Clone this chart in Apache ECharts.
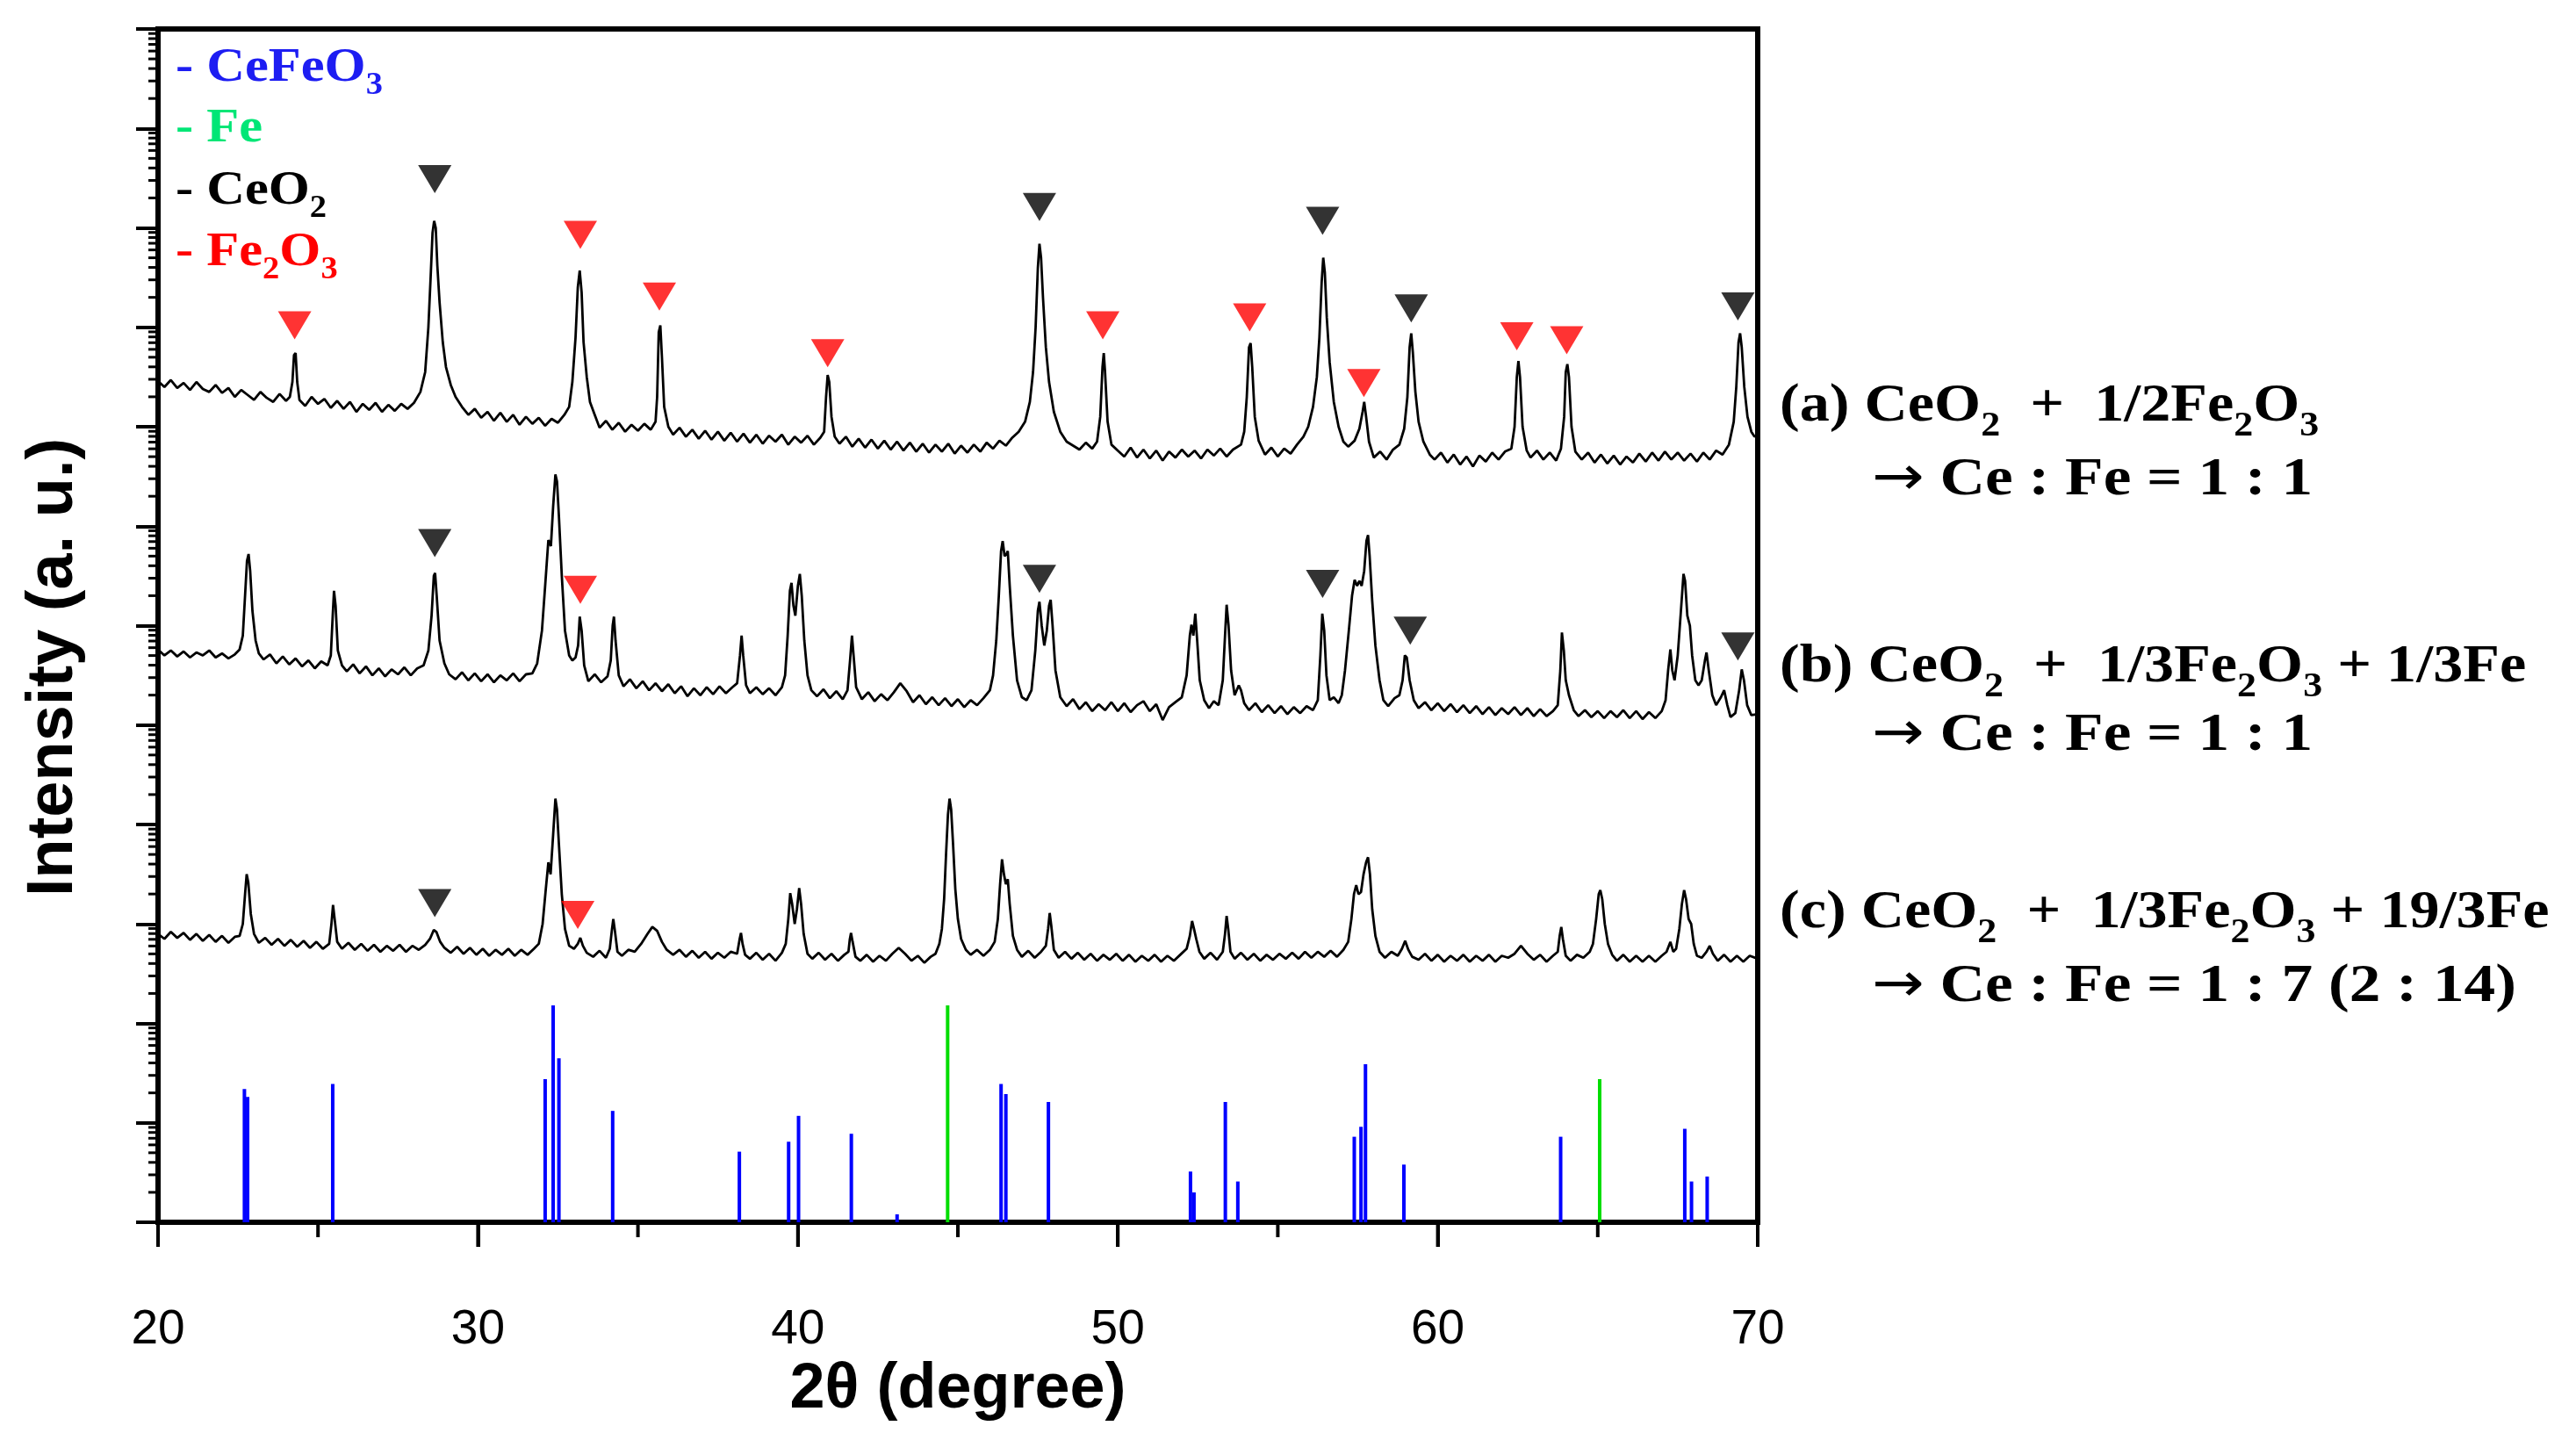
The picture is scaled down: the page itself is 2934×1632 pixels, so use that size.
<!DOCTYPE html>
<html><head><meta charset="utf-8">
<script src="https://cdn.jsdelivr.net/npm/echarts@6/dist/echarts.min.js"></script>
<style>html,body{margin:0;padding:0;background:#fff}#c{width:2934px;height:1632px}</style>
</head><body><div id="c"></div>
<script>
// x: 2θ (degree); y: intensity in decades (log scale, stacked offsets)
const xTicks = [20, 30, 40, 50, 60, 70];
const xMinorTicks = [25, 35, 45, 55, 65];

const traceA = [[20.0,8.46],[20.2,8.40],[20.4,8.47],[20.6,8.39],[20.8,8.44],[21.0,8.37],[21.2,8.45],[21.4,8.38],[21.6,8.35],[21.8,8.42],[22.0,8.34],[22.2,8.39],[22.4,8.30],[22.6,8.37],[22.8,8.32],[23.0,8.27],[23.2,8.35],[23.4,8.29],[23.6,8.25],[23.8,8.33],[24.0,8.26],
[24.12,8.30],[24.2,8.45],[24.25,8.72],[24.3,8.74],[24.35,8.45],[24.42,8.27],
[24.6,8.21],[24.8,8.30],[25.0,8.23],[25.2,8.28],[25.4,8.19],[25.6,8.26],[25.8,8.18],[26.0,8.25],[26.2,8.15],[26.4,8.23],[26.6,8.17],[26.8,8.24],[27.0,8.15],[27.2,8.22],[27.4,8.16],[27.6,8.23],[27.8,8.18],
[28.0,8.24],[28.2,8.35],[28.35,8.55],[28.45,9.0],[28.52,9.5],[28.58,9.95],[28.63,10.07],[28.68,10.0],[28.73,9.62],[28.8,9.25],[28.9,8.85],[29.0,8.6],[29.15,8.42],[29.3,8.3],[29.5,8.2],
[29.7,8.12],[29.9,8.18],[30.1,8.09],[30.3,8.15],[30.5,8.06],[30.7,8.14],[30.9,8.05],[31.1,8.12],[31.3,8.02],[31.5,8.10],[31.7,8.03],[31.9,8.09],[32.1,8.01],[32.3,8.08],[32.5,8.04],[32.7,8.12],
[32.85,8.2],[32.95,8.45],[33.05,8.9],[33.12,9.4],[33.18,9.57],[33.24,9.35],[33.3,8.85],[33.4,8.5],[33.5,8.25],[33.65,8.12],
[33.8,7.99],[34.0,8.06],[34.2,7.97],[34.4,8.04],[34.6,7.95],[34.8,8.02],[35.0,7.96],[35.2,8.03],[35.4,7.97],[35.55,8.05],
[35.6,8.3],[35.65,8.95],[35.7,9.02],[35.75,8.7],[35.82,8.2],[35.95,8.0],
[36.1,7.92],[36.3,7.99],[36.5,7.90],[36.7,7.97],[36.9,7.88],[37.1,7.96],[37.3,7.87],[37.5,7.95],[37.7,7.86],[37.9,7.94],[38.1,7.85],[38.3,7.93],[38.5,7.84],[38.7,7.92],[38.9,7.83],[39.1,7.91],[39.3,7.85],[39.5,7.92],[39.7,7.82],[39.9,7.90],[40.1,7.84],[40.3,7.91],[40.5,7.82],[40.7,7.89],
[40.82,7.95],[40.88,8.3],[40.93,8.52],[40.98,8.45],[41.05,8.1],[41.15,7.9],
[41.3,7.83],[41.5,7.90],[41.7,7.80],[41.9,7.88],[42.1,7.79],[42.3,7.87],[42.5,7.78],[42.7,7.86],[42.9,7.77],[43.1,7.85],[43.3,7.76],[43.5,7.84],[43.7,7.75],[43.9,7.83],[44.1,7.74],[44.3,7.82],[44.5,7.75],[44.7,7.83],[44.9,7.73],[45.1,7.81],[45.3,7.74],[45.5,7.82],[45.7,7.75],[45.9,7.84],[46.1,7.78],[46.3,7.86],[46.5,7.81],[46.7,7.89],[46.9,7.95],
[47.1,8.05],[47.25,8.25],[47.35,8.55],[47.43,9.0],[47.5,9.6],[47.55,9.84],[47.6,9.7],[47.66,9.3],[47.75,8.8],[47.85,8.45],[48.0,8.15],[48.2,7.95],[48.4,7.85],
[48.6,7.81],[48.8,7.77],[49.0,7.84],[49.2,7.78],[49.35,7.85],
[49.45,8.1],[49.52,8.6],[49.56,8.74],[49.6,8.55],[49.68,8.05],[49.8,7.82],
[50.0,7.76],[50.2,7.70],[50.4,7.79],[50.6,7.69],[50.8,7.77],[51.0,7.68],[51.2,7.76],[51.4,7.66],[51.6,7.75],[51.8,7.69],[52.0,7.77],[52.2,7.70],[52.4,7.76],[52.6,7.68],[52.8,7.77],[53.0,7.71],[53.2,7.78],[53.4,7.70],[53.6,7.77],[53.85,7.82],
[53.95,7.95],[54.03,8.3],[54.1,8.8],[54.15,8.84],[54.2,8.6],[54.28,8.1],[54.4,7.86],
[54.6,7.72],[54.8,7.79],[55.0,7.70],[55.2,7.78],[55.4,7.73],[55.6,7.82],[55.8,7.9],
[55.95,8.0],[56.1,8.2],[56.22,8.5],[56.3,8.9],[56.37,9.45],[56.42,9.70],[56.47,9.55],[56.53,9.1],[56.62,8.65],[56.75,8.25],[56.9,8.0],[57.05,7.85],[57.2,7.8],[57.4,7.86],[57.55,7.98],
[57.65,8.15],[57.7,8.25],[57.76,8.1],[57.85,7.85],
[58.0,7.69],[58.2,7.75],[58.4,7.67],[58.6,7.77],[58.8,7.82],
[58.95,7.98],[59.05,8.3],[59.12,8.8],[59.17,8.94],[59.22,8.75],[59.3,8.35],[59.4,8.05],[59.55,7.85],[59.75,7.72],
[59.9,7.67],[60.1,7.74],[60.3,7.64],[60.5,7.72],[60.7,7.62],[60.9,7.70],[61.1,7.60],[61.3,7.71],[61.5,7.65],[61.7,7.74],[61.9,7.67],[62.1,7.75],[62.3,7.78],
[62.4,8.0],[62.47,8.5],[62.52,8.66],[62.57,8.5],[62.65,8.0],[62.78,7.76],
[62.9,7.69],[63.1,7.76],[63.3,7.67],[63.5,7.74],[63.7,7.66],[63.85,7.78],
[63.95,8.1],[64.0,8.55],[64.05,8.63],[64.1,8.5],[64.18,8.0],[64.3,7.75],
[64.5,7.67],[64.7,7.74],[64.9,7.64],[65.1,7.72],[65.3,7.63],[65.5,7.71],[65.7,7.62],[65.9,7.70],[66.1,7.64],[66.3,7.73],[66.5,7.65],[66.7,7.74],[66.9,7.66],[67.1,7.75],[67.3,7.67],[67.5,7.74],[67.7,7.66],[67.9,7.73],[68.1,7.65],[68.3,7.74],[68.5,7.67],[68.7,7.76],[68.9,7.72],[69.1,7.82],[69.25,8.05],
[69.33,8.4],[69.4,8.85],[69.45,8.94],[69.5,8.8],[69.58,8.4],[69.68,8.1],[69.8,7.95],[69.9,7.9],[70.0,7.92]];

const traceB = [[20.0,5.76],[20.2,5.70],[20.4,5.75],[20.6,5.69],[20.8,5.74],[21.0,5.68],[21.2,5.73],[21.4,5.70],[21.6,5.75],[21.8,5.68],[22.0,5.72],[22.2,5.67],[22.4,5.71],[22.55,5.76],
[22.65,5.9],[22.72,6.3],[22.78,6.65],[22.83,6.72],[22.88,6.55],[22.95,6.15],[23.05,5.85],[23.15,5.72],
[23.3,5.66],[23.5,5.71],[23.7,5.62],[23.9,5.69],[24.1,5.61],[24.3,5.67],[24.5,5.59],[24.7,5.65],[24.9,5.57],[25.1,5.64],[25.3,5.60],
[25.4,5.7],[25.46,6.1],[25.5,6.35],[25.55,6.2],[25.62,5.75],[25.75,5.6],
[25.9,5.54],[26.1,5.61],[26.3,5.52],[26.5,5.59],[26.7,5.50],[26.9,5.57],[27.1,5.49],[27.3,5.56],[27.5,5.51],[27.7,5.58],[27.9,5.50],[28.1,5.57],[28.3,5.60],
[28.45,5.75],[28.55,6.1],[28.62,6.5],[28.66,6.53],[28.71,6.3],[28.8,5.85],[28.95,5.62],
[29.1,5.51],[29.3,5.46],[29.5,5.53],[29.7,5.45],[29.9,5.52],[30.1,5.44],[30.3,5.51],[30.5,5.43],[30.7,5.50],[30.9,5.45],[31.1,5.52],[31.3,5.44],[31.5,5.51],[31.7,5.52],[31.85,5.62],
[32.0,5.95],[32.1,6.4],[32.2,6.86],[32.28,6.8],[32.35,7.2],[32.42,7.52],[32.47,7.45],[32.53,7.1],[32.62,6.5],[32.72,5.95],[32.85,5.7],[32.95,5.65],[33.05,5.68],
[33.13,5.8],[33.18,6.09],[33.24,5.95],[33.32,5.6],
[33.45,5.44],[33.65,5.51],[33.85,5.43],[34.05,5.49],
[34.15,5.65],[34.21,6.0],[34.25,6.09],[34.3,5.85],[34.4,5.5],
[34.55,5.39],[34.75,5.46],[34.95,5.37],[35.15,5.44],[35.35,5.35],[35.55,5.42],[35.75,5.34],[35.95,5.41],[36.15,5.32],[36.35,5.39],[36.55,5.29],[36.75,5.37],[36.95,5.30],[37.15,5.38],[37.35,5.31],[37.55,5.39],[37.75,5.32],[37.95,5.38],[38.1,5.42],
[38.19,5.7],[38.24,5.90],[38.29,5.7],[38.38,5.4],
[38.5,5.32],[38.7,5.38],[38.9,5.31],[39.1,5.37],[39.3,5.30],[39.5,5.38],[39.6,5.5],
[39.68,5.9],[39.75,6.35],[39.8,6.43],[39.86,6.2],[39.92,6.1],[40.0,6.4],[40.06,6.52],[40.12,6.3],[40.2,5.85],[40.3,5.5],[40.42,5.35],
[40.6,5.29],[40.8,5.36],[41.0,5.27],[41.2,5.34],[41.4,5.26],[41.55,5.35],
[41.63,5.65],[41.69,5.90],[41.74,5.7],[41.82,5.38],
[42.0,5.26],[42.2,5.33],[42.4,5.24],[42.6,5.31],[42.8,5.25],[43.0,5.33],[43.2,5.42],[43.4,5.34],[43.6,5.23],[43.8,5.30],[44.0,5.21],[44.2,5.28],[44.4,5.20],[44.6,5.27],[44.8,5.19],[45.0,5.26],[45.2,5.18],[45.4,5.25],[45.6,5.20],[45.8,5.27],[46.0,5.35],
[46.1,5.5],[46.2,5.85],[46.28,6.3],[46.35,6.75],[46.4,6.85],[46.46,6.7],[46.52,6.72],[46.56,6.75],[46.62,6.4],[46.72,5.9],[46.85,5.45],[47.0,5.28],
[47.15,5.25],[47.3,5.35],[47.42,5.75],[47.5,6.15],[47.55,6.24],[47.62,6.0],[47.7,5.8],[47.78,5.95],[47.85,6.2],[47.9,6.26],[47.96,6.0],[48.05,5.55],[48.2,5.28],
[48.4,5.19],[48.6,5.26],[48.8,5.16],[49.0,5.23],[49.2,5.14],[49.4,5.21],[49.6,5.15],[49.8,5.23],[50.0,5.14],[50.2,5.22],[50.4,5.13],[50.6,5.20],[50.8,5.24],[51.0,5.14],[51.2,5.21],[51.4,5.05],[51.6,5.18],[51.8,5.23],[52.0,5.28],
[52.15,5.5],[52.25,5.9],[52.3,6.01],[52.36,5.9],[52.42,6.12],[52.48,5.85],[52.56,5.45],[52.7,5.25],
[52.85,5.17],[53.0,5.24],[53.15,5.2],[53.28,5.45],
[53.35,5.9],[53.4,6.21],[53.46,6.0],[53.54,5.55],[53.65,5.3],[53.78,5.4],[53.85,5.35],[53.95,5.22],
[54.1,5.15],[54.3,5.22],[54.5,5.13],[54.7,5.20],[54.9,5.12],[55.1,5.19],[55.3,5.11],[55.5,5.18],[55.7,5.12],[55.9,5.19],[56.1,5.15],[56.25,5.25],
[56.33,5.7],[56.39,6.12],[56.45,5.95],[56.52,5.5],[56.62,5.25],[56.75,5.28],[56.9,5.22],[57.0,5.3],
[57.1,5.55],[57.22,5.95],[57.32,6.3],[57.4,6.46],[57.48,6.4],[57.55,6.45],[57.62,6.4],[57.7,6.55],[57.77,6.85],[57.82,6.91],[57.87,6.7],[57.95,6.25],[58.05,5.8],[58.18,5.45],[58.3,5.25],
[58.45,5.19],[58.65,5.27],[58.8,5.3],
[58.9,5.45],[58.97,5.7],[59.03,5.68],[59.12,5.45],[59.25,5.25],
[59.4,5.17],[59.6,5.23],[59.8,5.15],[60.0,5.22],[60.2,5.14],[60.4,5.21],[60.6,5.13],[60.8,5.20],[61.0,5.12],[61.2,5.19],[61.4,5.11],[61.6,5.18],[61.8,5.10],[62.0,5.17],[62.2,5.11],[62.4,5.18],[62.6,5.10],[62.8,5.17],[63.0,5.09],[63.2,5.16],[63.4,5.09],[63.6,5.14],[63.75,5.2],
[63.83,5.55],[63.88,5.93],[63.94,5.75],[64.0,5.45],[64.1,5.3],[64.25,5.15],
[64.4,5.09],[64.6,5.15],[64.8,5.08],[65.0,5.14],[65.2,5.07],[65.4,5.14],[65.6,5.08],[65.8,5.15],[66.0,5.07],[66.2,5.14],[66.4,5.06],[66.6,5.13],[66.8,5.07],[67.0,5.14],[67.12,5.25],
[67.2,5.55],[67.27,5.76],[67.33,5.55],[67.4,5.45],[67.5,5.7],[67.6,6.15],[67.68,6.52],[67.73,6.45],[67.8,6.1],[67.88,6.0],[67.95,5.7],[68.05,5.45],[68.15,5.4],[68.25,5.45],[68.35,5.65],[68.4,5.73],[68.47,5.55],[68.58,5.3],[68.7,5.2],[68.85,5.28],[68.95,5.35],[69.05,5.2],[69.15,5.08],[69.3,5.12],[69.42,5.35],[69.5,5.56],[69.57,5.45],[69.67,5.2],[69.8,5.1],[70.0,5.11]];

const traceC = [[20.0,2.90],[20.2,2.85],[20.4,2.92],[20.6,2.86],[20.8,2.91],[21.0,2.84],[21.2,2.90],[21.4,2.83],[21.6,2.89],[21.8,2.82],[22.0,2.88],[22.2,2.81],[22.4,2.87],[22.55,2.88],
[22.65,3.0],[22.72,3.3],[22.77,3.50],[22.82,3.42],[22.9,3.1],[23.0,2.9],
[23.15,2.81],[23.35,2.86],[23.55,2.79],[23.75,2.85],[23.95,2.78],[24.15,2.84],[24.35,2.77],[24.55,2.83],[24.75,2.76],[24.95,2.82],[25.15,2.75],[25.35,2.80],
[25.42,3.0],[25.47,3.19],[25.52,3.05],[25.6,2.82],
[25.75,2.75],[25.95,2.81],[26.15,2.74],[26.35,2.80],[26.55,2.73],[26.75,2.79],[26.95,2.72],[27.15,2.78],[27.35,2.73],[27.55,2.79],[27.75,2.72],[27.95,2.78],[28.15,2.74],[28.35,2.79],
[28.5,2.85],[28.62,2.94],[28.7,2.92],[28.82,2.82],[28.95,2.76],
[29.15,2.71],[29.35,2.77],[29.55,2.70],[29.75,2.76],[29.95,2.69],[30.15,2.75],[30.35,2.68],[30.55,2.74],[30.75,2.69],[30.95,2.75],[31.15,2.68],[31.35,2.74],[31.55,2.69],[31.75,2.75],[31.9,2.8],
[32.02,3.0],[32.12,3.35],[32.2,3.62],[32.27,3.5],[32.35,3.9],[32.42,4.26],[32.47,4.15],[32.53,3.8],[32.62,3.3],[32.72,2.95],[32.85,2.78],[33.0,2.75],
[33.12,2.8],[33.2,2.86],[33.28,2.78],[33.4,2.71],
[33.6,2.67],[33.8,2.73],[34.0,2.66],[34.12,2.75],
[34.19,2.95],[34.23,3.05],[34.28,2.93],[34.36,2.72],
[34.5,2.68],[34.7,2.74],[34.9,2.72],[35.1,2.8],[35.3,2.9],[35.45,2.97],[35.6,2.93],[35.75,2.82],[35.9,2.74],[36.1,2.69],
[36.3,2.74],[36.5,2.67],[36.7,2.73],[36.9,2.66],[37.1,2.72],[37.3,2.65],[37.5,2.71],[37.7,2.66],[37.9,2.72],[38.1,2.7],
[38.18,2.85],[38.22,2.91],[38.27,2.8],[38.35,2.69],
[38.5,2.65],[38.7,2.71],[38.9,2.64],[39.1,2.70],[39.3,2.63],[39.5,2.71],[39.62,2.8],
[39.7,3.05],[39.76,3.31],[39.82,3.2],[39.9,3.0],[39.97,3.15],[40.04,3.36],[40.1,3.2],[40.18,2.9],[40.3,2.7],
[40.45,2.65],[40.65,2.71],[40.85,2.64],[41.05,2.70],[41.25,2.63],[41.45,2.69],[41.58,2.72],
[41.62,2.84],[41.66,2.91],[41.71,2.82],[41.8,2.67],
[41.95,2.63],[42.15,2.69],[42.35,2.62],[42.55,2.68],[42.75,2.63],[42.95,2.70],[43.15,2.76],[43.35,2.7],[43.55,2.63],[43.75,2.68],[43.95,2.61],[44.15,2.67],[44.3,2.7],[44.42,2.8],
[44.5,2.95],[44.57,3.25],[44.63,3.7],[44.69,4.1],[44.74,4.26],[44.79,4.15],[44.85,3.8],[44.92,3.35],[45.0,3.05],[45.1,2.85],[45.25,2.74],
[45.4,2.69],[45.6,2.74],[45.8,2.68],[46.0,2.74],[46.15,2.82],
[46.25,3.05],[46.32,3.4],[46.38,3.65],[46.44,3.5],[46.5,3.4],[46.56,3.45],[46.62,3.2],[46.72,2.88],[46.85,2.74],
[47.0,2.67],[47.2,2.73],[47.4,2.66],[47.6,2.72],[47.75,2.78],
[47.82,2.95],[47.87,3.11],[47.92,2.98],[48.0,2.74],
[48.15,2.66],[48.35,2.72],[48.55,2.65],[48.75,2.71],[48.95,2.64],[49.15,2.70],[49.35,2.63],[49.55,2.69],[49.75,2.64],[49.95,2.70],[50.15,2.63],[50.35,2.69],[50.55,2.62],[50.75,2.68],[50.95,2.63],[51.15,2.69],[51.35,2.62],[51.55,2.68],[51.75,2.63],[51.95,2.69],[52.15,2.75],
[52.25,2.88],[52.32,3.03],[52.38,2.95],[52.45,2.85],[52.55,2.72],
[52.7,2.65],[52.9,2.71],[53.1,2.64],[53.28,2.72],
[53.35,2.9],[53.4,3.08],[53.45,2.95],[53.52,2.72],
[53.65,2.65],[53.85,2.71],[54.05,2.64],[54.25,2.70],[54.45,2.63],[54.65,2.69],[54.85,2.64],[55.05,2.70],[55.25,2.65],[55.45,2.71],[55.65,2.65],[55.85,2.72],[56.05,2.66],[56.25,2.72],[56.45,2.67],[56.65,2.73],[56.85,2.67],[57.05,2.74],[57.2,2.82],
[57.3,3.05],[57.38,3.3],[57.45,3.39],[57.52,3.3],[57.6,3.32],[57.68,3.5],[57.76,3.62],[57.82,3.67],[57.88,3.5],[57.95,3.15],[58.05,2.88],[58.18,2.72],
[58.35,2.66],[58.55,2.72],[58.75,2.68],[58.88,2.75],[58.98,2.83],[59.08,2.74],[59.2,2.67],
[59.4,2.64],[59.6,2.70],[59.8,2.63],[60.0,2.69],[60.2,2.62],[60.4,2.68],[60.6,2.63],[60.8,2.69],[61.0,2.62],[61.2,2.68],[61.4,2.63],[61.6,2.69],[61.8,2.62],[62.0,2.68],[62.2,2.66],[62.4,2.7],[62.6,2.78],[62.8,2.7],[63.0,2.64],[63.2,2.69],[63.4,2.62],[63.6,2.68],[63.75,2.72],
[63.81,2.88],[63.86,2.97],[63.91,2.85],[64.0,2.68],
[64.15,2.63],[64.35,2.69],[64.55,2.66],[64.75,2.72],[64.85,2.8],[64.95,3.05],[65.03,3.3],[65.08,3.34],[65.14,3.25],[65.22,3.0],[65.32,2.8],[65.45,2.69],
[65.6,2.63],[65.8,2.69],[66.0,2.62],[66.2,2.68],[66.4,2.62],[66.6,2.68],[66.8,2.62],[67.0,2.68],[67.15,2.72],[67.27,2.82],[67.36,2.72],[67.45,2.75],[67.55,2.95],[67.63,3.2],[67.7,3.34],[67.76,3.25],[67.84,3.05],[67.92,3.0],[68.0,2.8],[68.1,2.68],[68.25,2.66],[68.4,2.72],[68.5,2.78],[68.6,2.7],[68.75,2.63],[68.95,2.69],[69.15,2.62],[69.35,2.68],[69.55,2.62],[69.75,2.68],[70.0,2.65]];

// reference patterns (stick heights, decades above baseline)
const sticksCeFeO3 = [[22.7,1.34],[22.8,1.26],[25.46,1.39],[32.1,1.44],[32.35,2.18],[32.53,1.65],[34.21,1.12],[38.17,0.71],[39.71,0.81],[40.02,1.07],[41.67,0.89],[43.1,0.08],[46.35,1.39],[46.5,1.29],[47.83,1.21],[52.27,0.51],[52.38,0.3],[53.36,1.21],[53.75,0.41],[57.39,0.86],[57.6,0.96],[57.74,1.59],[58.94,0.58],[63.84,0.86],[67.72,0.94],[67.93,0.41],[68.42,0.46]];
const sticksFe = [[44.68,2.18],[65.06,1.44]];

// peak markers
const markCeO2 = [[28.65,10.49],[47.55,10.21],[56.4,10.07],[59.17,9.19],[69.38,9.21],[28.65,6.83],[47.55,6.47],[56.4,6.42],[59.14,5.95],[69.38,5.79],[28.65,3.21]];
const markFe2O3 = [[24.27,9.02],[33.2,9.93],[35.67,9.31],[40.93,8.74],[49.53,9.02],[54.12,9.10],[57.69,8.44],[62.47,8.91],[64.03,8.87],[33.2,6.36],[33.12,3.09]];

const legendItems = [['- CeFeO{s|3}', '#1d1df2'], ['- Fe', '#00e676'], ['- CeO{s|2}', '#000000'], ['- Fe{s|2}O{s|3}', '#ff0000']];
const sampleLabels = [
  ['(a) CeO{s|2}  +  1/2Fe{s|2}O{s|3}', '{a|→} Ce : Fe = 1 : 1'],
  ['(b) CeO{s|2}  +  1/3Fe{s|2}O{s|3} + 1/3Fe', '{a|→} Ce : Fe = 1 : 1'],
  ['(c) CeO{s|2}  +  1/3Fe{s|2}O{s|3} + 19/3Fe', '{a|→} Ce : Fe = 1 : 7 (2 : 14)']
];

const minorTicks = [];
for (let d = 0; d < 12; d++) for (let k = 2; k <= 9; k++) minorTicks.push(d + Math.log10(k));

const serif = 'Liberation Serif';
const sans = 'Liberation Sans';
const chart = echarts.init(document.getElementById('c'), null, {renderer: 'canvas'});

const graphics = [];
graphics.push({type: 'text', x: 62, y: 760, rotation: Math.PI / 2,
  style: {text: 'Intensity (a. u.)', fill: '#000', fontFamily: sans, fontWeight: 'bold', fontSize: 74, align: 'center', verticalAlign: 'middle'}});
const legendY = [78, 147, 218, 288];
legendItems.forEach((it, i) => {
  graphics.push({type: 'text', x: 200, y: legendY[i], scaleX: 1.1,
    style: {text: it[0], fill: it[1], fontFamily: serif, fontWeight: 'bold', fontSize: 55, lineHeight: 74, align: 'left', verticalAlign: 'middle',
      rich: {s: {fontFamily: serif, fontWeight: 'bold', fontSize: 35, lineHeight: 40, verticalAlign: 'bottom', fill: it[1]}}}});
});
const labY = [[463, 547], [760, 838], [1040, 1124]];
sampleLabels.forEach((l, i) => {
  graphics.push({type: 'text', x: 2027, y: labY[i][0], scaleX: 1.1,
    style: {text: l[0], fill: '#000', fontFamily: serif, fontWeight: 'bold', fontSize: 62, lineHeight: 86, align: 'left', verticalAlign: 'middle',
      rich: {s: {fontFamily: serif, fontWeight: 'bold', fontSize: 40, lineHeight: 46, verticalAlign: 'bottom', fill: '#000'}}}});
  graphics.push({type: 'text', x: 2132, y: labY[i][1], scaleX: 1.15,
    style: {text: l[1], fill: '#000', fontFamily: serif, fontWeight: 'bold', fontSize: 62, lineHeight: 70, align: 'left', verticalAlign: 'middle',
      rich: {a: {fontFamily: 'DejaVu Sans', fontWeight: 'normal', fontSize: 62, lineHeight: 70, fill: '#000'}}}});
});

const lineSeries = (d) => ({type: 'line', data: d, showSymbol: false, symbol: 'none', lineStyle: {color: '#000', width: 2.8}, z: 3, animation: false});
const stickSeries = (d, color) => ({type: 'custom', data: d, encode: {x: 0, y: 1}, z: 2, animation: false, clip: true,
  renderItem: (params, api) => {
    const p0 = api.coord([api.value(0), 0]);
    const p1 = api.coord([api.value(0), api.value(1)]);
    return {type: 'rect', shape: {x: p0[0] - 2, y: p1[1], width: 4, height: p0[1] - p1[1]}, style: {fill: color}};
  }});

chart.setOption({
  animation: false,
  backgroundColor: '#fff',
  grid: {left: 180, top: 33, right: 932, bottom: 240, show: true, borderColor: '#000', borderWidth: 6, backgroundColor: 'transparent'},
  xAxis: {type: 'value', min: 20, max: 70, interval: 10,
    name: '2θ (degree)', nameLocation: 'middle', nameGap: 132,
    nameTextStyle: {fontFamily: sans, fontWeight: 'bold', fontSize: 72, color: '#000'},
    axisLine: {show: true, onZero: false, lineStyle: {color: '#000', width: 6}},
    axisTick: {show: true, inside: false, length: 28, lineStyle: {color: '#000', width: 4}},
    splitLine: {show: false},
    axisLabel: {show: true, margin: 95, fontFamily: sans, fontSize: 55, color: '#000', customValues: xTicks}},
  yAxis: {type: 'value', min: 0, max: 12, interval: 1,
    axisLine: {show: true, onZero: false, lineStyle: {color: '#000', width: 6}},
    axisTick: {show: true, inside: false, length: 25, lineStyle: {color: '#000', width: 4}},
    axisLabel: {show: false}, splitLine: {show: false}},
  graphic: graphics,
  series: [
    lineSeries(traceA), lineSeries(traceB), lineSeries(traceC),
    stickSeries(sticksCeFeO3, '#0000ff'),
    stickSeries(sticksFe, '#00dd00'),
    {type: 'scatter', data: markCeO2, symbol: 'triangle', symbolRotate: 180, symbolSize: [38, 32], itemStyle: {color: '#000'}, z: 4, animation: false},
    {type: 'scatter', data: markFe2O3, symbol: 'triangle', symbolRotate: 180, symbolSize: [38, 32], itemStyle: {color: '#ff0000'}, z: 4, animation: false}
  ]
});

// outward tick marks, positioned through the axes' own scales
const tickEls = [];
const yBase = chart.convertToPixel({yAxisIndex: 0}, 0);
const xBase = chart.convertToPixel({xAxisIndex: 0}, 20);
xTicks.forEach(v => {
  const px = chart.convertToPixel({xAxisIndex: 0}, v);
  tickEls.push({type: 'line', z: 10, shape: {x1: px, y1: yBase, x2: px, y2: yBase + 28}, style: {stroke: '#000', lineWidth: 4}});
});
xMinorTicks.forEach(v => {
  const px = chart.convertToPixel({xAxisIndex: 0}, v);
  tickEls.push({type: 'line', z: 10, shape: {x1: px, y1: yBase, x2: px, y2: yBase + 17}, style: {stroke: '#000', lineWidth: 4}});
});
minorTicks.forEach(v => {
  const py = chart.convertToPixel({yAxisIndex: 0}, v);
  tickEls.push({type: 'line', z: 10, shape: {x1: xBase - 11, y1: py, x2: xBase, y2: py}, style: {stroke: '#000', lineWidth: 3}});
});
chart.setOption({graphic: graphics.concat(tickEls)});
</script></body></html>
